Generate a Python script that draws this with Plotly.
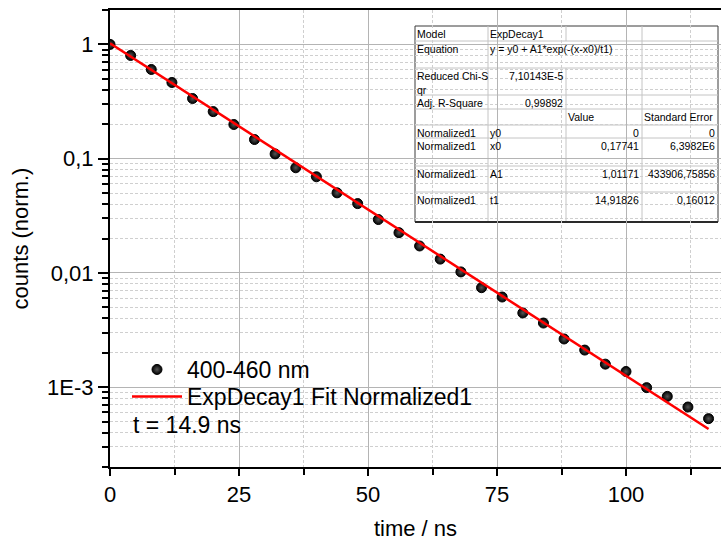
import math
import plotly.graph_objects as go

# ---------------- data ----------------
time_ns = [0, 4, 8, 12, 16, 20, 24, 28, 32, 36, 40, 44, 48, 52, 56, 60,
           64, 68, 72, 76, 80, 84, 88, 92, 96, 100, 104, 108, 112, 116]
counts = [1.0, 0.80, 0.603, 0.464, 0.336, 0.258, 0.199, 0.147, 0.110, 0.0832,
          0.0694, 0.0502, 0.0404, 0.0293, 0.0225, 0.0172, 0.0132, 0.0102,
          0.00742, 0.00615, 0.00446, 0.00364, 0.00264, 0.00211, 0.00159,
          0.00137, 0.00099, 0.00083, 0.00067, 0.00053]

# ExpDecay1 fit parameters (from the table)
fit_y0 = 0.0
fit_x0 = 0.17741
fit_A1 = 1.01171
fit_t1 = 14.91826
fit_x = [0, 116]

fit_curve_x = [fit_x[0] + (fit_x[1] - fit_x[0]) * i / 100 for i in range(101)]
fit_curve_y = [fit_y0 + fit_A1 * math.exp(-(x - fit_x0) / fit_t1) for x in fit_curve_x]

y_tickvals = [1e-3, 1e-2, 1e-1, 1]
y_ticktext = ["1E-3", "0,01", "0,1", "1"]
y_minor = [m * 10 ** e for e in range(-4, 1) for m in range(2, 10) if 2e-4 <= m * 10 ** e <= 2]
x_tickvals = [0, 25, 50, 75, 100]
x_minor = [12.5, 37.5, 62.5, 87.5, 112.5]

# ---------------- layout helpers ----------------
W, H = 721, 545
ML, MR, MT, MB = 110, 0, 10, 78
PW, PH = W - ML - MR, H - MT - MB


def px(x):
    return (x - ML) / PW


def py(y):
    return (H - MB - y) / PH


FONT = "Liberation Sans, Arial, sans-serif"

fig = go.Figure()
fig.add_trace(go.Scatter(
    x=time_ns, y=counts, mode="markers", name="400-460 nm", legend="legend",
    marker=dict(color="black", size=10, line=dict(color="black", width=1),
                gradient=dict(type="radial", color="#555555")),
))
fig.add_trace(go.Scatter(
    x=fit_curve_x, y=fit_curve_y, mode="lines", name="ExpDecay1 Fit Normalized1",
    legend="legend2", line=dict(color="#ff0000", width=2.5),
))

axis_common = dict(
    showline=True, linecolor="black", linewidth=2, mirror=True,
    ticks="outside", tickcolor="black", tickwidth=2,
    tickfont=dict(family=FONT, size=22, color="black"),
    zeroline=False,
)

fig.update_xaxes(
    **axis_common, range=[0, PW / 5.16], tickmode="array", tickvals=x_tickvals,
    ticklen=7, showgrid=True, gridcolor="#b4b4b4", gridwidth=1,
    minor=dict(tickvals=x_minor, ticks="outside", ticklen=6, tickwidth=2, tickcolor="black",
               showgrid=True, gridcolor="#cfcfcf", griddash="3px,2px", gridwidth=1),
    title=dict(text="time / ns", font=dict(family=FONT, size=22, color="black"), standoff=14),
)
fig.update_yaxes(
    **axis_common, type="log", range=[math.log10(2e-4), math.log10(2)],
    tickmode="array", tickvals=y_tickvals, ticktext=y_ticktext,
    ticklen=10, showgrid=True, gridcolor="#b4b4b4", gridwidth=1,
    minor=dict(tickvals=y_minor, ticks="outside", ticklen=6, tickwidth=2, tickcolor="black",
               showgrid=True, gridcolor="#cfcfcf", griddash="3px,2px", gridwidth=1),
    title=dict(text="counts (norm.)", font=dict(family=FONT, size=22, color="black"), standoff=12),
)

shapes = []
annotations = []

# legend text background for second entry
shapes.append(dict(type="rect", xref="paper", yref="paper", layer="between",
                   x0=px(184), x1=px(472), y0=py(410), y1=py(384),
                   fillcolor="white", line=dict(width=0)))

# ---------------- inset table ----------------
tl, tr = 415, 718
cols = [415, 488, 566, 642, 718]
rows = [26, 41, 68, 95, 109, 125, 138, 166, 192, 222]
shapes.append(dict(type="rect", xref="paper", yref="paper", layer="between",
                   x0=px(tl), x1=px(tr), y0=py(rows[-1]), y1=py(rows[0]),
                   fillcolor="white", line=dict(color="#3a3a3a", width=1)))
for r in rows[1:-1]:
    shapes.append(dict(type="line", xref="paper", yref="paper", layer="between",
                       x0=px(tl), x1=px(tr), y0=py(r), y1=py(r),
                       line=dict(color="#c4c4c4", width=1)))
for i in range(len(rows) - 1):
    for ci, c in enumerate(cols[1:-1]):
        if ci == 1 and i == 1:
            continue
        shapes.append(dict(type="line", xref="paper", yref="paper", layer="between",
                           x0=px(c), x1=px(c), y0=py(rows[i + 1]), y1=py(rows[i]),
                           line=dict(color="#c4c4c4", width=1)))
shapes.append(dict(type="line", xref="paper", yref="paper", layer="between",
                   x0=px(tl), x1=px(tr), y0=py(rows[-1]), y1=py(rows[-1]),
                   line=dict(color="#2a2a2a", width=2)))

cells = [
    (0, 0, "Model", "l"), (0, 1, "ExpDecay1", "l"),
    (1, 0, "Equation", "l"), (1, 1, "y = y0 + A1*exp(-(x-x0)/t1)", "l"),
    (2, 0, "Reduced Chi-S<br>qr", "l"), (2, 1, "7,10143E-5", "r"),
    (3, 0, "Adj. R-Square", "l"), (3, 1, "0,99892", "r"),
    (4, 2, "Value", "l"), (4, 3, "Standard Error", "l"),
    (5, 0, "Normalized1", "l"), (5, 1, "y0", "l"), (5, 2, "0", "r"), (5, 3, "0", "r"),
    (6, 0, "Normalized1", "l"), (6, 1, "x0", "l"), (6, 2, "0,17741", "r"), (6, 3, "6,3982E6", "r"),
    (7, 0, "Normalized1", "l"), (7, 1, "A1", "l"), (7, 2, "1,01171", "r"), (7, 3, "433906,75856", "r"),
    (8, 0, "Normalized1", "l"), (8, 1, "t1", "l"), (8, 2, "14,91826", "r"), (8, 3, "0,16012", "r"),
]
for r, c, txt, al in cells:
    top = rows[r] + 1
    if al == "l":
        x, xa = px(cols[c] + 1), "left"
    else:
        x, xa = px(cols[c + 1] - 2), "right"
    annotations.append(dict(xref="paper", yref="paper", x=x, y=py(top), xanchor=xa,
                            yanchor="top", text=txt, showarrow=False, align="left",
                            font=dict(family=FONT, size=10.5, color="black"),
                            borderpad=0))

annotations.append(dict(xref="paper", yref="paper", x=px(131), y=py(425), xanchor="left",
                        yanchor="middle", text="t = 14.9 ns", showarrow=False,
                        font=dict(family=FONT, size=23, color="black")))

legend_common = dict(xanchor="left", yanchor="top", bgcolor="rgba(0,0,0,0)",
                     borderwidth=0, itemwidth=50,
                     font=dict(family=FONT, size=23, color="black"))

fig.update_layout(
    width=W, height=H,
    margin=dict(l=ML, r=MR, t=MT, b=MB, autoexpand=False),
    paper_bgcolor="white", plot_bgcolor="white",
    showlegend=True,
    legend=dict(x=px(127), y=py(348), **legend_common),
    legend2=dict(x=px(127), y=py(375), **legend_common),
    shapes=shapes, annotations=annotations,
)

fig.write_html("out.html")
